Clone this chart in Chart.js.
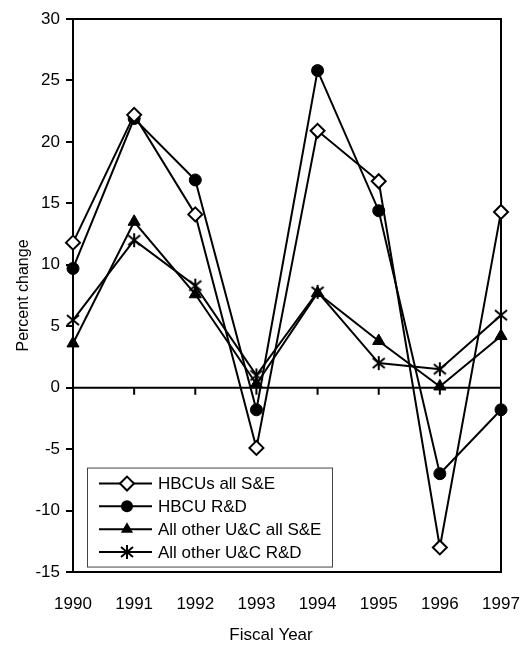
<!DOCTYPE html>
<html>
<head>
<meta charset="utf-8">
<script src="https://cdn.jsdelivr.net/npm/chart.js@4/dist/chart.umd.min.js"></script>
<style>
html,body{margin:0;padding:0;background:#fff;}
#wrap{width:528px;height:650px;}
</style>
</head>
<body>
<div id="wrap"><canvas id="c" width="528" height="650"></canvas></div>
<script>
const years = ['1990','1991','1992','1993','1994','1995','1996','1997'];
const hbcuAllSE = [11.8, 22.2, 14.1, -4.9, 20.9, 16.8, -13.0, 14.3];
const hbcuRD = [9.7, 21.9, 16.9, -1.8, 25.8, 14.4, -7.0, -1.8];
const otherAllSE = [3.6, 13.5, 7.6, 0.3, 7.7, 3.8, 0.1, 4.2];
const otherRD = [5.5, 12.0, 8.3, 1.0, 7.8, 2.0, 1.5, 5.9];
const seriesNames = ['HBCUs all S&E', 'HBCU R&D', 'All other U&C all S&E', 'All other U&C R&D'];
const yTicks = [-15, -10, -5, 0, 5, 10, 15, 20, 25, 30];
const xTitle = 'Fiscal Year';
const yTitle = 'Percent change';

const FONT = '"Liberation Sans", Arial, sans-serif';

// asterisk marker image
function makeAsterisk() {
  const c = document.createElement('canvas');
  c.width = 16; c.height = 16;
  const g = c.getContext('2d');
  g.strokeStyle = '#000'; g.lineWidth = 2;
  g.beginPath();
  g.moveTo(8, 1); g.lineTo(8, 15);
  g.moveTo(2, 3); g.lineTo(14, 13);
  g.moveTo(2, 13); g.lineTo(14, 3);
  g.stroke();
  return c;
}
const asterisk = makeAsterisk();

const styles = [
  {pointStyle: 'rectRot', pointRadius: 7, pointBackgroundColor: '#fff', pointBorderWidth: 2},
  {pointStyle: 'circle', pointRadius: 6, pointBackgroundColor: '#000', pointBorderWidth: 1},
  {pointStyle: 'triangle', pointRadius: 7, pointBackgroundColor: '#000', pointBorderWidth: 1},
  {pointStyle: asterisk, pointRadius: 7, pointBackgroundColor: '#000', pointBorderWidth: 1}
];
const seriesData = [hbcuAllSE, hbcuRD, otherAllSE, otherRD];

const datasets = seriesData.map((d, i) => Object.assign({
  label: seriesNames[i],
  data: d,
  borderColor: '#000',
  borderWidth: 2,
  pointBorderColor: '#000',
  pointHoverRadius: 7,
  tension: 0,
  fill: false
}, styles[i]));

function drawMarker(ctx, kind, x, y) {
  ctx.save();
  ctx.strokeStyle = '#000';
  ctx.fillStyle = '#000';
  ctx.lineWidth = 2;
  ctx.beginPath();
  if (kind === 0) {
    const r = 7;
    ctx.moveTo(x - r, y); ctx.lineTo(x, y - r); ctx.lineTo(x + r, y); ctx.lineTo(x, y + r); ctx.closePath();
    ctx.fillStyle = '#fff'; ctx.fill(); ctx.stroke();
  } else if (kind === 1) {
    ctx.arc(x, y, 6, 0, Math.PI * 2); ctx.fill();
  } else if (kind === 2) {
    const r = 7;
    for (let k = 0; k < 3; k++) {
      const a = k * 2 * Math.PI / 3;
      const px = x + Math.sin(a) * r, py = y - Math.cos(a) * r;
      if (k === 0) ctx.moveTo(px, py); else ctx.lineTo(px, py);
    }
    ctx.closePath(); ctx.fill();
  } else {
    ctx.drawImage(asterisk, x - 8, y - 8);
  }
  ctx.restore();
}

const framePlugin = {
  id: 'frame',
  beforeDatasetsDraw(chart) {
    const {ctx, chartArea: a, scales} = chart;
    const y0 = scales.y.getPixelForValue(0);
    ctx.save();
    ctx.strokeStyle = '#000';
    ctx.lineWidth = 2;
    ctx.beginPath();
    ctx.moveTo(a.left, y0); ctx.lineTo(a.right, y0);
    for (let i = 1; i < years.length - 1; i++) {
      const x = scales.x.getPixelForValue(i);
      ctx.moveTo(x, y0); ctx.lineTo(x, y0 + 7);
    }
    // top and right frame
    ctx.moveTo(a.left, a.top); ctx.lineTo(a.right, a.top); ctx.lineTo(a.right, a.bottom);
    ctx.stroke();
    ctx.restore();
  },
  afterDraw(chart) {
    const {ctx, chartArea: a, scales} = chart;
    // x-axis title, centred slightly left of the plot centre as in the original
    ctx.save();
    ctx.font = '17px ' + FONT;
    ctx.fillStyle = '#000';
    ctx.textAlign = 'center';
    ctx.textBaseline = 'middle';
    ctx.fillText(xTitle, (a.left + a.right) / 2 - 16, a.bottom + 63);
    ctx.restore();

    // legend box anchored inside the plot area
    const bx = a.left + 14, by = scales.y.getPixelForValue(-6.5);
    const bw = 245, bh = 99;
    ctx.save();
    ctx.fillStyle = '#fff';
    ctx.fillRect(bx, by, bw, bh);
    ctx.strokeStyle = '#444';
    ctx.lineWidth = 1;
    ctx.strokeRect(bx + 0.5, by + 0.5, bw, bh);
    ctx.font = '17px ' + FONT;
    ctx.textBaseline = 'middle';
    ctx.fillStyle = '#000';
    const rowH = 22.8;
    chart.data.datasets.forEach((ds, i) => {
      const cy = by + 16 + i * rowH;
      ctx.strokeStyle = '#000';
      ctx.lineWidth = 2;
      ctx.beginPath();
      ctx.moveTo(bx + 12, cy); ctx.lineTo(bx + 65, cy);
      ctx.stroke();
      drawMarker(ctx, i, bx + 40, cy);
      ctx.fillStyle = '#000';
      ctx.fillText(ds.label, bx + 71, cy + 1);
    });
    ctx.restore();
  }
};

new Chart(document.getElementById('c'), {
  type: 'line',
  data: {labels: years, datasets},
  options: {
    responsive: false,
    animation: false,
    devicePixelRatio: 1,
    layout: {padding: {top: 19, right: 27, left: 0, bottom: 0}},
    plugins: {
      legend: {display: false},
      tooltip: {enabled: false}
    },
    scales: {
      x: {
        type: 'category',
        offset: false,
        grid: {display: false, drawTicks: false},
        border: {display: true, color: '#000', width: 2},
        ticks: {color: '#000', font: {family: FONT, size: 17}, padding: 22, maxRotation: 0, autoSkip: false},
        afterFit(s) { s.height = 78; s.paddingRight = 0; s.paddingLeft = 0; }
      },
      y: {
        min: -15, max: 30,
        afterBuildTicks(s) { s.ticks = yTicks.map(v => ({value: v})); },
        grid: {drawOnChartArea: false, drawTicks: true, tickLength: 7, color: '#000', lineWidth: 2},
        border: {display: true, color: '#000', width: 2},
        ticks: {color: '#000', font: {family: FONT, size: 17}, padding: 6},
        title: {display: true, text: yTitle, color: '#000', font: {family: FONT, size: 16}, padding: {top: 14, bottom: 0}},
        afterFit(s) { s.width = 73; s.paddingTop = 0; s.paddingBottom = 0; }
      }
    }
  },
  plugins: [framePlugin]
});
</script>
</body>
</html>
